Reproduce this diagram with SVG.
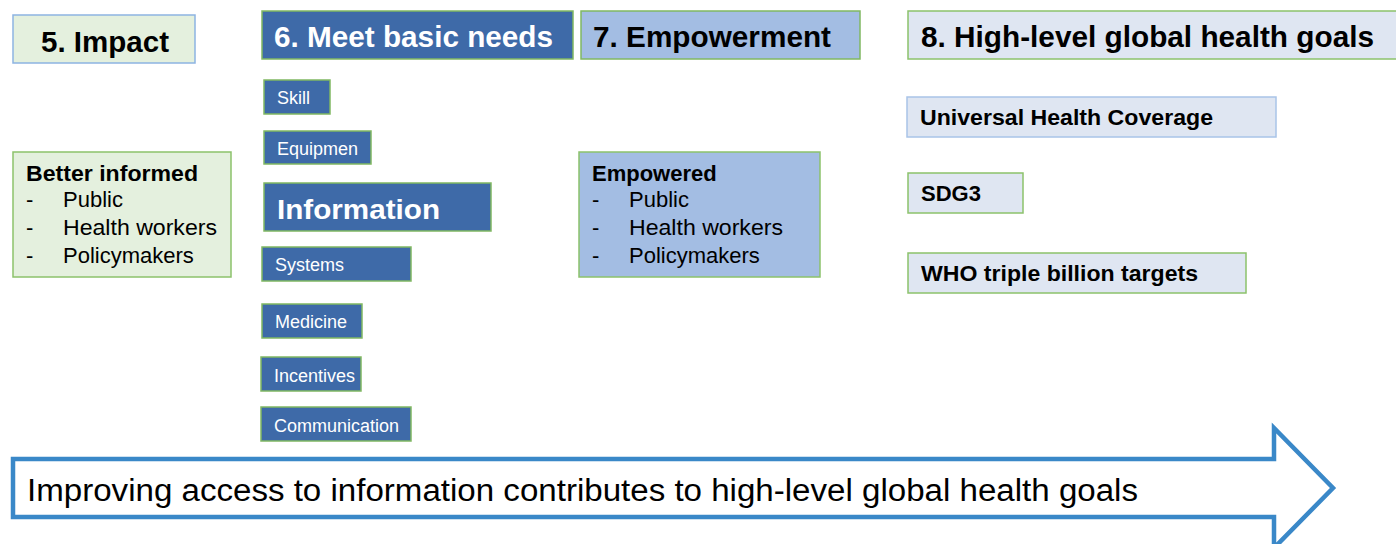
<svg xmlns="http://www.w3.org/2000/svg" width="1396" height="544" viewBox="0 0 1396 544">
<style>
.dk{fill:#3e6aa8;stroke:#80b862;stroke-width:1.5}
.gr{fill:#e4f0de;stroke:#8cc26b;stroke-width:1.5}
.em{fill:#a3bde3;stroke:#80b862;stroke-width:1.5}
.lt{fill:#dfe6f2;stroke:#8cc26b;stroke-width:1.5}
.hd{font-family:"Liberation Sans Narrow","Liberation Sans",Arial,sans-serif;font-weight:bold;font-size:29px}
.sm{font-family:"Liberation Sans",Arial,sans-serif;font-size:18px;fill:#fff}
.bd{font-family:"Liberation Sans",Arial,sans-serif;font-size:22px;font-weight:bold;fill:#000}
.rg{font-family:"Liberation Sans",Arial,sans-serif;font-size:22px;fill:#000}
</style>
<rect width="1396" height="544" fill="#fff"/>
<g id="n5"><rect x="13" y="15" width="182" height="48" class="gr" style="stroke:#8db4e2"/><text x="41" y="52" class="hd" textLength="128" lengthAdjust="spacingAndGlyphs">5. Impact</text></g>
<g id="n6"><rect x="262" y="11" width="311" height="48" class="dk"/><text x="274" y="47" class="hd" fill="#fff" textLength="279" lengthAdjust="spacingAndGlyphs">6. Meet basic needs</text></g>
<g id="n7"><rect x="581" y="11" width="279" height="48" class="em"/><text x="593" y="47" class="hd" textLength="238" lengthAdjust="spacingAndGlyphs">7. Empowerment</text></g>
<g id="n8"><rect x="908" y="11" width="492" height="48" class="lt"/><text x="921" y="47" class="hd" textLength="453" lengthAdjust="spacingAndGlyphs">8. High-level global health goals</text></g>
<g id="skill"><rect x="264" y="80" width="66" height="34" class="dk"/><text x="277" y="104" class="sm">Skill</text></g>
<g id="equip"><rect x="264" y="131" width="107" height="33" class="dk"/><text x="277" y="155" class="sm">Equipmen</text></g>
<g id="info"><rect x="264" y="183" width="227" height="48" class="dk"/><text x="277" y="219" font-family="Liberation Sans,Arial,sans-serif" font-size="28" font-weight="bold" fill="#fff" textLength="163" lengthAdjust="spacingAndGlyphs">Information</text></g>
<g id="systems"><rect x="262" y="247" width="149" height="34" class="dk"/><text x="275" y="271" class="sm">Systems</text></g>
<g id="medicine"><rect x="262" y="304" width="100" height="34" class="dk"/><text x="275" y="328" class="sm">Medicine</text></g>
<g id="incentives"><rect x="261" y="357" width="100" height="34" class="dk"/><text x="274" y="382" class="sm">Incentives</text></g>
<g id="comm"><rect x="261" y="407" width="150" height="34" class="dk"/><text x="274" y="432" class="sm" textLength="125" lengthAdjust="spacingAndGlyphs">Communication</text></g>
<g id="better"><rect x="13" y="152" width="218" height="125" class="gr"/>
<text x="26" y="181" class="bd" textLength="172" lengthAdjust="spacingAndGlyphs">Better informed</text>
<text x="26" y="207" class="rg">-</text><text x="63" y="207" class="rg">Public</text>
<text x="26" y="235" class="rg">-</text><text x="63" y="235" class="rg" textLength="154" lengthAdjust="spacingAndGlyphs">Health workers</text>
<text x="26" y="263" class="rg">-</text><text x="63" y="263" class="rg">Policymakers</text></g>
<g id="empowered"><rect x="579" y="152" width="241" height="125" class="em" style="stroke:#8cc26b"/>
<text x="592" y="181" class="bd">Empowered</text>
<text x="592" y="207" class="rg">-</text><text x="629" y="207" class="rg">Public</text>
<text x="592" y="235" class="rg">-</text><text x="629" y="235" class="rg" textLength="154" lengthAdjust="spacingAndGlyphs">Health workers</text>
<text x="592" y="263" class="rg">-</text><text x="629" y="263" class="rg">Policymakers</text></g>
<g id="uhc"><rect x="907" y="97" width="369" height="40" class="lt" style="stroke:#a9c4e8"/><text x="920" y="125" class="bd" textLength="293" lengthAdjust="spacingAndGlyphs">Universal Health Coverage</text></g>
<g id="sdg3"><rect x="908" y="173" width="115" height="40" class="lt"/><text x="921" y="201" class="bd">SDG3</text></g>
<g id="who"><rect x="908" y="253" width="338" height="40" class="lt"/><text x="921" y="281" class="bd" textLength="277" lengthAdjust="spacingAndGlyphs">WHO triple billion targets</text></g>
<g id="connectors">
<path d="M13,459 H1274 V428 L1333,488 L1274,548 V517 H13 Z" fill="#fff" stroke="#3a88c8" stroke-width="4.5"/>
<text x="27" y="501" font-family="Liberation Sans Narrow,Liberation Sans,Arial,sans-serif" font-size="31" fill="#000" textLength="1111" lengthAdjust="spacingAndGlyphs">Improving access to information contributes to high-level global health goals</text>
</g>
</svg>
